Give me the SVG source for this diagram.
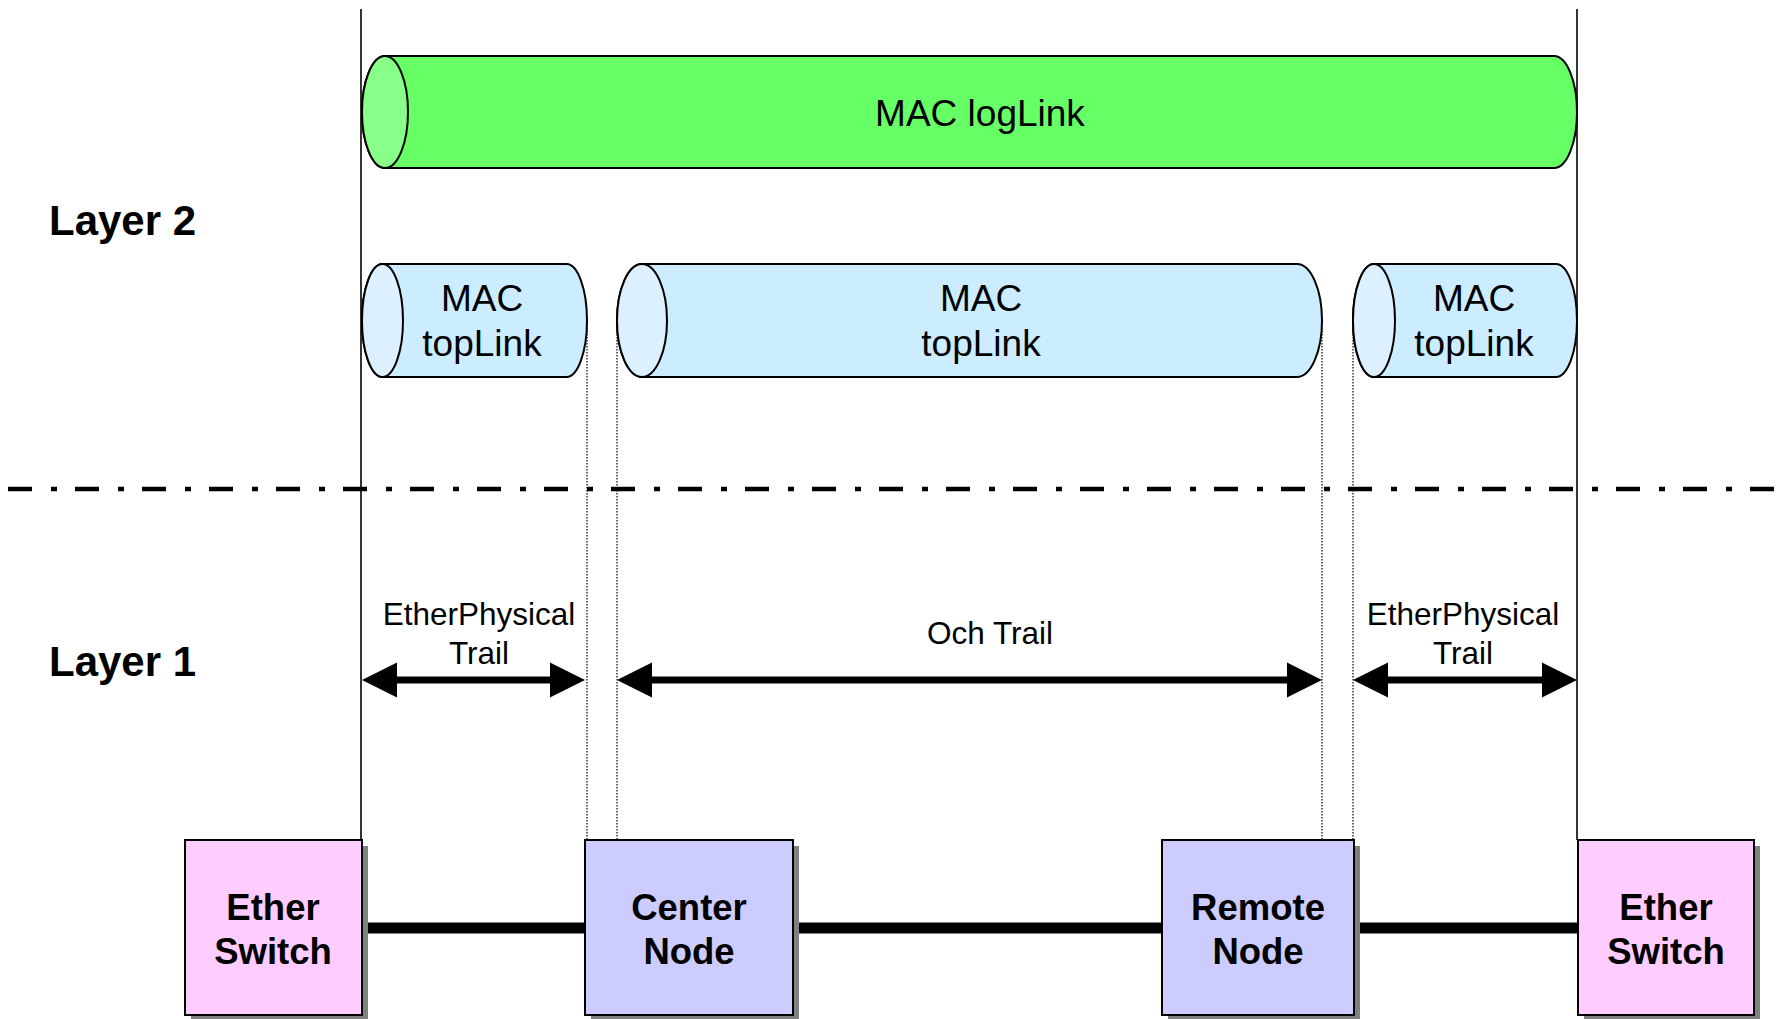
<svg xmlns="http://www.w3.org/2000/svg" width="1779" height="1019" viewBox="0 0 1779 1019">
<style>
.t{font-family:"Liberation Sans",Arial,sans-serif;fill:#000}
.n{font-family:"Liberation Sans",Arial,sans-serif;font-weight:bold;fill:#000;text-anchor:middle}
.c{text-anchor:middle}
.cylG{fill:#66FF66;stroke:#000;stroke-width:2}
.capG{fill:#88FF88;stroke:#000;stroke-width:2}
.cylB{fill:#CCECFF;stroke:#000;stroke-width:2}
.capB{fill:#DDF0FF;stroke:#000;stroke-width:2}
.vl{stroke:#000;stroke-width:1.6;fill:none}
.dl{stroke:#000;stroke-width:1.2;stroke-dasharray:1.5 1.5;fill:none}
.box{stroke:#000;stroke-width:2}
.sh{fill:#808080}
.conn{stroke:#000;stroke-width:11;fill:none}
.arr{stroke:#000;stroke-width:7;fill:none}
.ah{fill:#000}
</style>
<g id="guides">
<line class="vl" x1="361" y1="9" x2="361" y2="840"/>
<line class="vl" x1="1577" y1="9" x2="1577" y2="840"/>
<line class="dl" x1="587" y1="322" x2="587" y2="840"/>
<line class="dl" x1="617" y1="322" x2="617" y2="840"/>
<line class="dl" x1="1322" y1="322" x2="1322" y2="840"/>
<line class="dl" x1="1353" y1="322" x2="1353" y2="840"/>
<line x1="8" y1="489" x2="1779" y2="489" stroke="#000" stroke-width="4.5" stroke-dasharray="24 19 6 18"/>
</g>
<g id="layer-labels">
<text class="t" x="49" y="235" font-size="42" font-weight="bold">Layer 2</text>
<text class="t" x="49" y="676" font-size="42" font-weight="bold">Layer 1</text>
</g>
<g id="mac-loglink">
<path class="cylG" d="M385,56 H1554 A23,56 0 0 1 1554,168 H385 A23,56 0 0 1 385,56 Z"/>
<ellipse class="capG" cx="385" cy="112" rx="23" ry="56"/>
<text class="t c" x="980" y="126" font-size="37">MAC logLink</text>
</g>
<g id="mac-toplink-1">
<path class="cylB" d="M382.5,264 H566.5 A20.5,56.5 0 0 1 566.5,377 H382.5 A20.5,56.5 0 0 1 382.5,264 Z"/>
<ellipse class="capB" cx="382.5" cy="320.5" rx="20.5" ry="56.5"/>
<text class="t c" x="482" y="311" font-size="37">MAC</text>
<text class="t c" x="482" y="356" font-size="37">topLink</text>
</g>
<g id="mac-toplink-2">
<path class="cylB" d="M642,264 H1297 A25,56.5 0 0 1 1297,377 H642 A25,56.5 0 0 1 642,264 Z"/>
<ellipse class="capB" cx="642" cy="320.5" rx="25" ry="56.5"/>
<text class="t c" x="981" y="311" font-size="37">MAC</text>
<text class="t c" x="981" y="356" font-size="37">topLink</text>
</g>
<g id="mac-toplink-3">
<path class="cylB" d="M1374,264 H1556 A21,56.5 0 0 1 1556,377 H1374 A21,56.5 0 0 1 1374,264 Z"/>
<ellipse class="capB" cx="1374" cy="320.5" rx="21" ry="56.5"/>
<text class="t c" x="1474" y="311" font-size="37">MAC</text>
<text class="t c" x="1474" y="356" font-size="37">topLink</text>
</g>
<g id="trails">
<g id="trail-1">
<line class="arr" x1="392" y1="680" x2="555" y2="680"/>
<polygon class="ah" points="362,680 397,662.5 397,697.5"/>
<polygon class="ah" points="585,680 550,662.5 550,697.5"/>
<text class="t c" x="479" y="625" font-size="31.5">EtherPhysical</text>
<text class="t c" x="479" y="664" font-size="31.5">Trail</text>
</g>
<g id="trail-2">
<line class="arr" x1="647" y1="680" x2="1292" y2="680"/>
<polygon class="ah" points="617,680 652,662.5 652,697.5"/>
<polygon class="ah" points="1322,680 1287,662.5 1287,697.5"/>
<text class="t c" x="990" y="644" font-size="31.5">Och Trail</text>
</g>
<g id="trail-3">
<line class="arr" x1="1383" y1="680" x2="1547" y2="680"/>
<polygon class="ah" points="1353,680 1388,662.5 1388,697.5"/>
<polygon class="ah" points="1577,680 1542,662.5 1542,697.5"/>
<text class="t c" x="1463" y="625" font-size="31.5">EtherPhysical</text>
<text class="t c" x="1463" y="664" font-size="31.5">Trail</text>
</g>
</g>
<g id="connectors">
<line class="conn" x1="362" y1="928" x2="585" y2="928"/>
<line class="conn" x1="793" y1="928" x2="1162" y2="928"/>
<line class="conn" x1="1354" y1="928" x2="1578" y2="928"/>
</g>
<g id="ether-switch-left">
<rect class="sh" x="191" y="846" width="177" height="175"/>
<rect class="box" x="185" y="840" width="177" height="175" fill="#FFCCFF"/>
<text class="n" x="273" y="920" font-size="36.5">Ether</text>
<text class="n" x="273" y="964" font-size="36.5">Switch</text>
</g>
<g id="center-node">
<rect class="sh" x="591" y="846" width="208" height="175"/>
<rect class="box" x="585" y="840" width="208" height="175" fill="#CCCCFF"/>
<text class="n" x="689" y="920" font-size="36.5">Center</text>
<text class="n" x="689" y="964" font-size="36.5">Node</text>
</g>
<g id="remote-node">
<rect class="sh" x="1168" y="846" width="192" height="175"/>
<rect class="box" x="1162" y="840" width="192" height="175" fill="#CCCCFF"/>
<text class="n" x="1258" y="920" font-size="36.5">Remote</text>
<text class="n" x="1258" y="964" font-size="36.5">Node</text>
</g>
<g id="ether-switch-right">
<rect class="sh" x="1584" y="846" width="176" height="175"/>
<rect class="box" x="1578" y="840" width="176" height="175" fill="#FFCCFF"/>
<text class="n" x="1666" y="920" font-size="36.5">Ether</text>
<text class="n" x="1666" y="964" font-size="36.5">Switch</text>
</g>
</svg>
